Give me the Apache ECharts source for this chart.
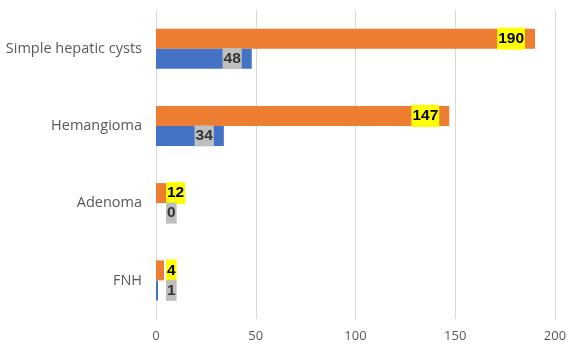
<!DOCTYPE html>
<html>
<head>
<meta charset="utf-8">
<script src="https://cdn.jsdelivr.net/npm/echarts@6/dist/echarts.min.js"></script>
<style>
  html, body { margin: 0; padding: 0; background: #fff; }
  #chart { width: 578px; height: 356px; }
</style>
</head>
<body>
<div id="chart"></div>
<script>
// categories, bottom to top as the axis draws them
const categories = ['FNH', 'Adenoma', 'Hemangioma', 'Simple hepatic cysts'];
const blueValues = [1, 0, 34, 48];
const orangeValues = [4, 12, 147, 190];
const xTicks = [0, 50, 100, 150, 200];

// small bars get their label pushed out from the axis, big ones sit inside the end
function labelled(values, bg, fg) {
  return values.map(function (v) {
    return {
      value: v,
      label: {
        position: v < 20 ? 'insideLeft' : 'insideRight',
        distance: 10,
        backgroundColor: bg,
        color: fg
      }
    };
  });
}

const myChart = echarts.init(document.getElementById('chart'));
const option = {
  animation: false,
  grid: { left: 156, right: 23, top: 10, bottom: 37 },
  xAxis: {
    type: 'value',
    min: xTicks[0],
    max: xTicks[xTicks.length - 1],
    interval: 50,
    axisLine: { show: false },
    axisTick: { show: false },
    splitLine: { lineStyle: { color: '#d9d9d9', width: 1 } },
    axisLabel: { color: '#595959', fontSize: 13, fontFamily: 'Open Sans', margin: 11 }
  },
  yAxis: {
    type: 'category',
    data: categories,
    axisLine: { show: false },
    axisTick: { show: false },
    axisLabel: { color: '#595959', fontSize: 14.5, fontFamily: 'Open Sans', margin: 14 }
  },
  series: [
    {
      type: 'bar',
      data: labelled(orangeValues, '#ffff00', '#000000'),
      barWidth: 20,
      barGap: '0%',
      itemStyle: { color: '#ed7d31' },
      label: {
        show: true,
        fontSize: 15.5,
        fontWeight: 'bold',
        fontFamily: 'Arial',
        padding: [3, 1, 3, 1]
      }
    },
    {
      type: 'bar',
      data: labelled(blueValues, '#bfbfbf', '#333333'),
      barWidth: 20,
      barGap: '0%',
      itemStyle: { color: '#4472c4' },
      label: {
        show: true,
        fontSize: 15.5,
        fontWeight: 'bold',
        fontFamily: 'Arial',
        padding: [3, 1, 2, 1]
      }
    }
  ]
};
myChart.setOption(option);
</script>
</body>
</html>
